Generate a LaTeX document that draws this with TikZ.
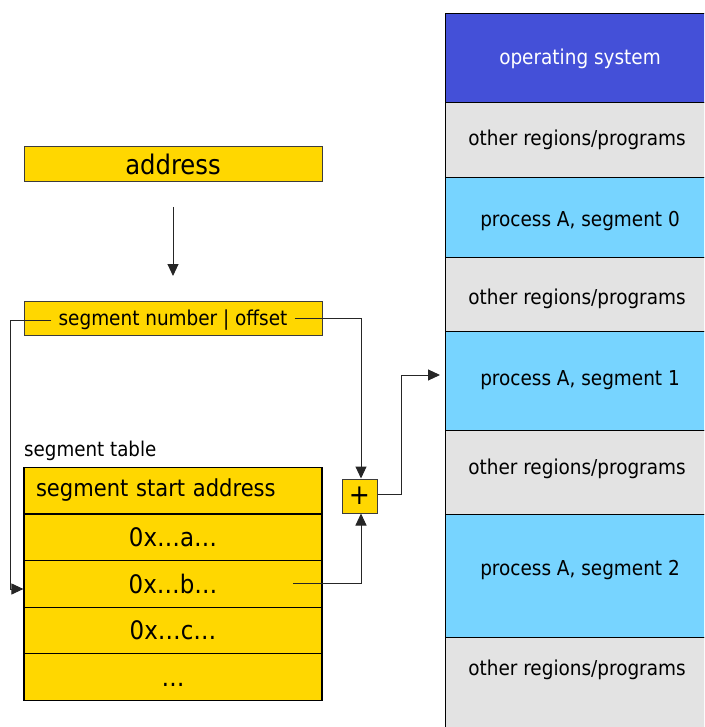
\documentclass[tikz,border=0pt]{standalone}
\usepackage{fontspec}
\setmainfont{DejaVu Sans Condensed}
\usetikzlibrary{arrows.meta}
\definecolor{ygold}{RGB}{255,215,0}
\definecolor{osblue}{RGB}{68,80,216}
\definecolor{pblue}{RGB}{119,212,255}
\definecolor{ogray}{RGB}{227,227,227}
\definecolor{ybord}{RGB}{60,60,60}
\tikzset{
  ybox/.style={draw=ybord, line width=1pt, fill=ygold, inner sep=0pt, minimum width=298pt},
  trow/.style={draw=black, line width=1.2pt, fill=ygold, inner sep=0pt, minimum width=298pt, minimum height=46.6pt, font=\fontsize{25.5}{29}\selectfont},
  mrow/.style={draw=black, line width=1pt, inner sep=0pt, minimum width=270pt, anchor=north west},
  mtxt/.style={font=\fontsize{20.5}{24}\selectfont, inner sep=0pt},
  conn/.style={draw=black!85, line width=1pt},
  arr/.style={conn, -{Triangle[length=12pt,width=11pt]}},
}
\begin{document}
\begin{tikzpicture}[x=1pt,y=-1pt]
\useasboundingbox (0,0) rectangle (704,727);
% memory column
\begin{scope}
\clip (0,0) rectangle (704,727);
\node[mrow, fill=osblue, minimum height=89pt] (os) at (445,13) {};
\node[mrow, fill=ogray, minimum height=75pt] (o1) at (445,102) {};
\node[mrow, fill=pblue, minimum height=80pt] (s0) at (445,177) {};
\node[mrow, fill=ogray, minimum height=74pt] (o2) at (445,257) {};
\node[mrow, fill=pblue, minimum height=99pt] (s1) at (445,331) {};
\node[mrow, fill=ogray, minimum height=84pt] (o3) at (445,430) {};
\node[mrow, fill=pblue, minimum height=123pt] (s2) at (445,514) {};
\node[mrow, fill=ogray, minimum height=100pt] (o4) at (445,637) {};
\end{scope}
\node[mtxt, text=white] (tos) at (580,59) {operating system};
\node[mtxt] (to1) at (577,140) {other regions/programs};
\node[mtxt] (ts0) at (580,221) {process A, segment 0};
\node[mtxt] (to2) at (577,299) {other regions/programs};
\node[mtxt] (ts1) at (580,380) {process A, segment 1};
\node[mtxt] (to3) at (577,469) {other regions/programs};
\node[mtxt] (ts2) at (580,570) {process A, segment 2};
\node[mtxt] (to4) at (577,670) {other regions/programs};
% address
\node[ybox, minimum height=35pt, font=\fontsize{27}{31}\selectfont] (addr) at (173,164.5) {address};
\coordinate (a1) at (173,207);
\coordinate (a2) at (173,276);
\draw[arr] (a1) -- (a2);
% segment number | offset
\node[ybox, minimum height=34pt] (sno) at (173,318) {};
\node[font=\fontsize{20.5}{24}\selectfont, inner xsep=7pt, inner ysep=1pt, fill=ygold] (snot) at (173,320) {segment number | offset};
% segment table
\node[anchor=west, inner sep=0pt, font=\fontsize{20.3}{24}\selectfont] (stl) at (24,451) {segment table};
\node[trow, text width=274pt, align=left, font=\fontsize{23.4}{27}\selectfont] (r0) at (173,490.5) {segment start address};
\node[trow] (ra) at (173,537.5) {0x…a…};
\node[trow] (rb) at (173,584) {0x…b…};
\node[trow] (rc) at (173,630.5) {0x…c…};
\node[trow] (rd) at (173,677) {\vphantom{0x}…};
% plus
\node[ybox, minimum width=35pt, minimum height=34pt, font=\fontsize{28}{32}\selectfont] (plus) at (359.5,496) {+};
% connectors
\coordinate (lft) at (10,589);
\draw[arr] (snot.west) -- (snot.west -| lft) -- (lft) -- (rb.west |- lft);
\coordinate (rgt) at (361,318);
\draw[arr] (snot.east |- rgt) -- (rgt) -- (rgt |- plus.north);
\coordinate (bst) at (293,583);
\draw[arr] (bst) -- (bst -| rgt) -- (rgt |- plus.south);
\coordinate (up) at (401,375);
\draw[arr, shorten >=5pt] (plus.east |- 0,494) -- (up |- 0,494) -- (up) -- (s1.west |- up);
\end{tikzpicture}
\end{document}
